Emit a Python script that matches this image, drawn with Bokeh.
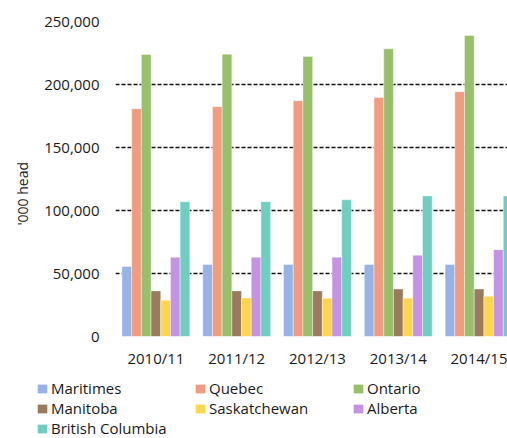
from bokeh.plotting import figure
from bokeh.layouts import column, row
from bokeh.models import (ColumnDataSource, Range1d, FixedTicker, Legend, LegendItem,
                          NumeralTickFormatter, Title)
from bokeh.transform import dodge
from bokeh.embed import file_html
from bokeh.resources import INLINE

years = ["2010/11", "2011/12", "2012/13", "2013/14", "2014/15"]
series = ["Maritimes", "Quebec", "Ontario", "Manitoba", "Saskatchewan", "Alberta", "British Columbia"]
maritimes = [55600, 57100, 57100, 57100, 57100]
quebec = [180800, 182400, 187100, 189700, 194200]
ontario = [223800, 224000, 222300, 228300, 238800]
manitoba = [36200, 36200, 36200, 37700, 37700]
saskatchewan = [28800, 30600, 30400, 30400, 32000]
alberta = [62900, 62900, 62900, 64500, 68900]
british_columbia = [106900, 107000, 108500, 111600, 111600]
colors = ["#95b3e7", "#f19c80", "#98c06a", "#9a7b5e", "#fcd64d", "#c692e3", "#6ecfc1"]

values = [maritimes, quebec, ontario, manitoba, saskatchewan, alberta, british_columbia]
FONT = "Open Sans"
TXT = "#1a1a1a"

xpos = [i + 0.5 for i in range(len(years))]
data = {"x": xpos}
for name, vals in zip(series, values):
    data[name] = vals
src = ColumnDataSource(data)

p = figure(width=507, height=370, output_backend="svg", toolbar_location=None,
           x_range=Range1d(0, 4.852), y_range=Range1d(0, 250000),
           min_border_left=114, min_border_right=0, min_border_top=21, min_border_bottom=31)
p.outline_line_color = None
p.background_fill_color = "white"
p.border_fill_color = "white"

bw = 0.12
for j, (name, col) in enumerate(zip(series, colors)):
    p.vbar(x=dodge("x", (j - 3) * bw, range=p.x_range), top=name, width=bw, source=src,
           fill_color=col, line_color="white", line_alpha=0.5, line_width=0.8)

# axes
p.xaxis.ticker = FixedTicker(ticks=xpos)
p.xaxis.major_label_overrides = {x: y for x, y in zip(xpos, years)}
p.xaxis.axis_line_color = None
p.xaxis.major_tick_line_color = None
p.xaxis.minor_tick_line_color = None
p.xaxis.major_tick_out = 0
p.xaxis.major_label_standoff = 11
p.xaxis.major_label_text_font = FONT
p.xaxis.major_label_text_font_size = "15px"
p.xaxis.major_label_text_color = TXT

p.yaxis.ticker = FixedTicker(ticks=[0, 50000, 100000, 150000, 200000, 250000])
p.yaxis.formatter = NumeralTickFormatter(format="0,0")
p.yaxis.axis_line_color = None
p.yaxis.major_tick_line_color = None
p.yaxis.minor_tick_line_color = None
p.yaxis.major_tick_out = 0
p.yaxis.major_label_standoff = 16
p.yaxis.major_label_text_font = FONT
p.yaxis.major_label_text_font_size = "15px"
p.yaxis.major_label_text_color = TXT

p.xgrid.grid_line_color = None
p.ygrid.grid_line_color = "#111111"
p.ygrid.grid_line_dash = "4 2"
p.ygrid.grid_line_width = 1.6
p.ygrid.level = "underlay"

# axis title
p.add_layout(Title(text="'000 head", align="left", offset=111, standoff=20,
                   text_font=FONT, text_font_size="14px", text_font_style="normal",
                   text_color=TXT), "left")

# legend in its own strip below the chart (its proxy bars have zero size)
lg = figure(width=507, height=68, output_backend="svg", toolbar_location=None,
            x_range=Range1d(0, 5), y_range=Range1d(0, 1),
            min_border_left=0, min_border_right=0, min_border_top=0, min_border_bottom=0)
lg.axis.visible = False
lg.grid.visible = False
lg.outline_line_color = None
items = []
for name, col in zip(series, colors):
    r = lg.vbar(x="x", bottom=0, top=0, width=0, source=src,
                fill_color=col, line_color=None)
    items.append(LegendItem(label=name, renderers=[r]))

legend = Legend(items=items, location=(36, 0), orientation="horizontal", ncols=3,
                glyph_width=12, glyph_height=11, label_standoff=3, label_width=143,
                label_height=19, spacing=0, padding=0, margin=0,
                border_line_color=None, background_fill_alpha=0,
                label_text_font=FONT, label_text_font_size="15px", label_text_color=TXT)
lg.add_layout(legend, "center")

layout = column(p, row(lg, spacing=0), spacing=0)
open("out.html", "w").write(file_html(layout, INLINE))
